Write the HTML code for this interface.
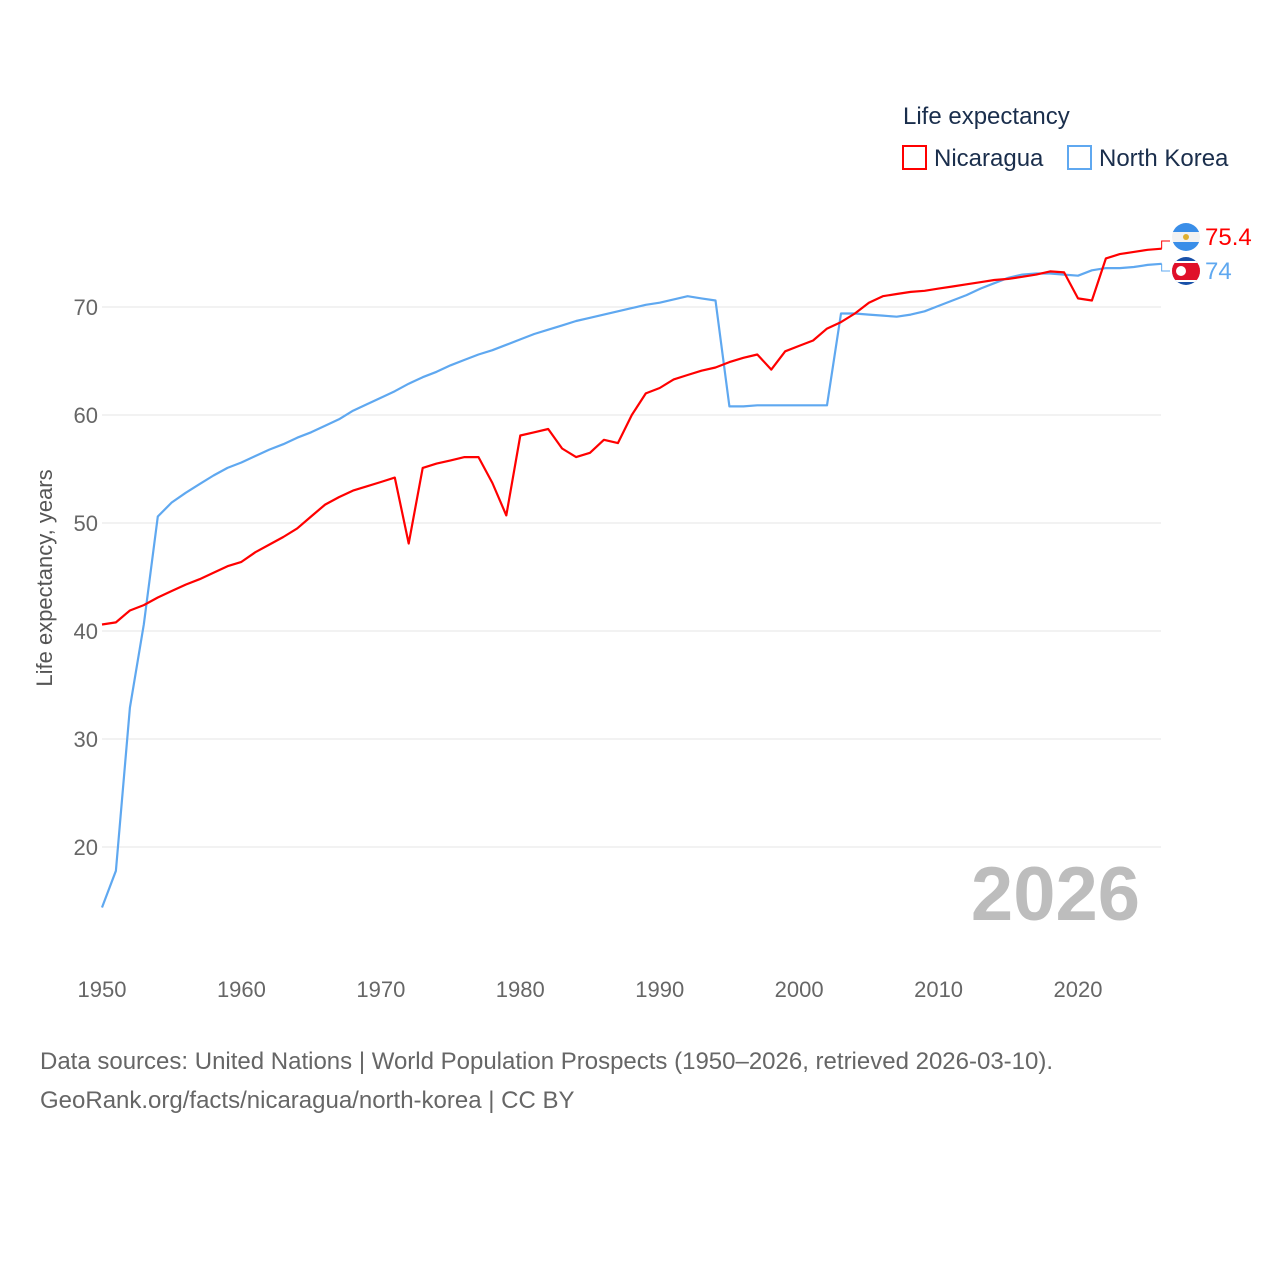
<!DOCTYPE html>
<html><head><meta charset="utf-8">
<style>
html,body{margin:0;padding:0;background:#fff;}
body{width:1280px;height:1280px;overflow:hidden;font-family:"Liberation Sans",sans-serif;}
svg text{font-family:"Liberation Sans",sans-serif;}
</style></head>
<body>
<svg id="chart" width="1280" height="1280" viewBox="0 0 1280 1280">
  <g id="grid"></g>
  <g id="yticks"></g>
  <g id="xticks"></g>
  <text x="52" y="578" transform="rotate(-90 52 578)" text-anchor="middle" font-size="22" fill="#555">Life expectancy, years</text>
  <text x="1140" y="920" text-anchor="end" font-size="76" font-weight="bold" fill="#bdbdbd">2026</text>
  <g id="lines"></g>
  <g>
    <text x="903" y="124" font-size="24" fill="#1a2e4c">Life expectancy</text>
    <g>
      <rect x="903" y="146" width="23" height="23" fill="none" stroke="#ff0000" stroke-width="2"/>
      <text x="934" y="166" font-size="24" fill="#1a2e4c">Nicaragua</text>
    </g>
    <g>
      <rect x="1068" y="146" width="23" height="23" fill="none" stroke="#5fa8f0" stroke-width="2"/>
      <text x="1099" y="166" font-size="24" fill="#1a2e4c">North Korea</text>
    </g>
  </g>
  <g>
    <defs>
      <clipPath id="c1"><circle cx="1186" cy="237" r="14"/></clipPath>
      <clipPath id="c2"><circle cx="1186" cy="271" r="14"/></clipPath>
    </defs>
    <g clip-path="url(#c1)">
      <rect x="1170" y="222" width="32" height="10" fill="#3a8ee8"/>
      <rect x="1170" y="232" width="32" height="10" fill="#f2f2f2"/>
      <rect x="1170" y="242" width="32" height="10" fill="#3a8ee8"/>
      <circle cx="1186" cy="237" r="3" fill="#e0b030"/>
    </g>
    <g clip-path="url(#c2)">
      <rect x="1170" y="256" width="32" height="32" fill="#1850a8"/>
      <rect x="1170" y="261" width="32" height="21" fill="#fff"/>
      <rect x="1170" y="263" width="32" height="17" fill="#e0102a"/>
      <circle cx="1181" cy="271" r="5" fill="#fff"/>
    </g>
    <text x="1205" y="245" font-size="24" fill="#ff0000">75.4</text>
    <text x="1205" y="279" font-size="24" fill="#5fa8f0">74</text>
  </g>
  <text x="40" y="1069" font-size="24" fill="#666">Data sources: United Nations | World Population Prospects (1950–2026, retrieved 2026-03-10).</text>
  <text x="40" y="1108" font-size="24" fill="#666">GeoRank.org/facts/nicaragua/north-korea | CC BY</text>
</svg>
<script>
const years = [];
for (let y = 1950; y <= 2026; y++) years.push(y);
const nicaragua = [40.6,40.8,41.9,42.4,43.1,43.7,44.3,44.8,45.4,46.0,46.4,47.3,48.0,48.7,49.5,50.6,51.7,52.4,53.0,53.4,53.8,54.2,48.1,55.1,55.5,55.8,56.1,56.1,53.7,50.7,58.1,58.4,58.7,56.9,56.1,56.5,57.7,57.4,60.0,62.0,62.5,63.3,63.7,64.1,64.4,64.9,65.3,65.6,64.2,65.9,66.4,66.9,68.0,68.6,69.4,70.4,71.0,71.2,71.4,71.5,71.7,71.9,72.1,72.3,72.5,72.6,72.8,73.0,73.3,73.2,70.8,70.6,74.5,74.9,75.1,75.3,75.4];
const northKorea = [14.4,17.8,32.9,40.6,50.6,51.9,52.8,53.6,54.4,55.1,55.6,56.2,56.8,57.3,57.9,58.4,59.0,59.6,60.4,61.0,61.6,62.2,62.9,63.5,64.0,64.6,65.1,65.6,66.0,66.5,67.0,67.5,67.9,68.3,68.7,69.0,69.3,69.6,69.9,70.2,70.4,70.7,71.0,70.8,70.6,60.8,60.8,60.9,60.9,60.9,60.9,60.9,60.9,69.4,69.4,69.3,69.2,69.1,69.3,69.6,70.1,70.6,71.1,71.7,72.2,72.7,73.0,73.1,73.1,73.0,72.9,73.4,73.6,73.6,73.7,73.9,74.0];
const yTicks = [20,30,40,50,60,70];
const xTicks = [1950,1960,1970,1980,1990,2000,2010,2020];

const NS = "http://www.w3.org/2000/svg";
const xs = yr => 102 + (yr - 1950) * (976 / 70);
const ys = v => 307 + (70 - v) * 10.8;
function mk(tag, attrs, parent) {
  const e = document.createElementNS(NS, tag);
  for (const k in attrs) e.setAttribute(k, attrs[k]);
  parent.appendChild(e);
  return e;
}
const grid = document.getElementById('grid');
const yt = document.getElementById('yticks');
yTicks.forEach(v => {
  const l = mk('line', {x1: 102, x2: 1161, y1: ys(v), y2: ys(v), stroke: '#e6e6e6', 'stroke-width': 1}, grid);
  
  
  const t = mk('text', {x: 98, y: ys(v) + 8, 'text-anchor': 'end', 'font-size': 22, fill: '#666'}, yt);
  t.textContent = v;
  
  
});
const xt = document.getElementById('xticks');
xTicks.forEach(yr => {
  const t = mk('text', {x: xs(yr), y: 997, 'text-anchor': 'middle', 'font-size': 22, fill: '#666'}, xt);
  t.textContent = yr;
  
  
});
const lines = document.getElementById('lines');
function drawSeries(vals, color, name) {
  const d = vals.map((v, i) => (i ? 'L' : 'M') + xs(years[i]).toFixed(1) + ' ' + ys(v).toFixed(1)).join(' ');
  const p = mk('path', {d: d, fill: 'none', stroke: color, 'stroke-width': 2.2, 'stroke-linejoin': 'round'}, lines);
  
  
}
drawSeries(northKorea, '#5fa8f0', 'north-korea-line');
drawSeries(nicaragua, '#ff0000', 'nicaragua-line');
const lastN = nicaragua[nicaragua.length - 1], lastK = northKorea[northKorea.length - 1];
const c1 = mk('path', {d: `M${xs(2026)} ${ys(lastN)} V241 H1170`, fill: 'none', stroke: '#ff0000', 'stroke-width': 1}, lines);


const c2 = mk('path', {d: `M${xs(2026)} ${ys(lastK)} V271 H1170`, fill: 'none', stroke: '#5fa8f0', 'stroke-width': 1}, lines);


</script>
</body></html>
